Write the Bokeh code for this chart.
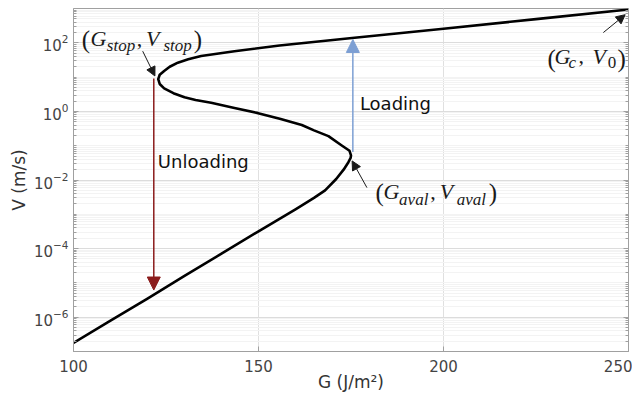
from bokeh.plotting import figure
from bokeh.models import FixedTicker, LogAxis, Arrow, NormalHead, Label, CustomJSTickFormatter
from bokeh.embed import file_html
from bokeh.resources import INLINE

# ---- data ----
G_curve = [100, 110, 120, 130, 140, 150, 160, 165, 168, 171, 173, 174.3, 174.9, 175.0,
           174.6, 172.6, 168.9, 165.0, 161.7, 156.0, 149.9, 143.5, 137.2, 133.0, 130.0, 127.0, 124.5, 123.3, 122.9,
           123.3, 124.5, 126.0, 128.2, 131.0, 134.5, 143.5, 155.7, 175.3, 200.0, 225.0, 250.0]
V_curve = [1.78e-7, 7.9e-7, 3.5e-6, 1.6e-5, 7.1e-5, 3.2e-4, 1.4e-3, 3.0e-3, 5.0e-3, 1.07e-2, 2.0e-2, 3.3e-2, 4.4e-2, 5.2e-2,
           7.1e-2, 0.10, 0.19, 0.28, 0.40, 0.60, 0.89, 1.26, 1.78, 2.14, 2.57, 3.4, 4.7, 6.3, 8.7,
           11.7, 15.1, 20, 26.4, 33, 41, 57, 83, 138, 257, 490, 933]

x_ticks = [100, 150, 200, 250]
y_ticks = [1e-6, 1e-4, 1e-2, 1e0, 1e2]
y_minor = [k * 10.0 ** n for n in range(-7, 3) for k in range(1, 10) if not (k == 1 and n % 2 == 0)]

# arrows: (G_start, V_start, G_end, V_end)
unload_arrow = (121.7, 9.1, 121.7, 6.2e-6)
load_arrow = (175.5, 0.065, 175.5, 125)
stop_pointer = (118.7, 57, 122.0, 10.8)
c_pointer = (243.2, 199, 249.1, 660)
aval_pointer = (179.3, 6.0e-3, 175.3, 0.036)

p = figure(width=632, height=394, x_range=(100, 250), y_range=(1e-7, 1e3),
           y_axis_type="log", output_backend="svg", toolbar_location=None,
           min_border_left=73, min_border_right=4, min_border_top=8, min_border_bottom=40)
p.background_fill_color = "white"
p.border_fill_color = "white"
p.outline_line_color = "#a0a0a0"

p.line(G_curve, V_curve, line_color="black", line_width=2.6, line_join="round")

axis_col = "#a0a0a0"
p.xaxis.ticker = FixedTicker(ticks=x_ticks)
p.yaxis.ticker = FixedTicker(ticks=y_ticks, minor_ticks=y_minor)
for ax in p.axis:
    ax.axis_line_color = axis_col
    ax.major_tick_line_color = axis_col
    ax.minor_tick_line_color = axis_col
    ax.major_tick_in = 5
    ax.major_tick_out = 0
    ax.minor_tick_in = 3
    ax.minor_tick_out = 0
    ax.major_label_text_font = "DejaVu Sans"
    ax.major_label_text_font_size = "15px"
    ax.major_label_text_color = "#444444"
    ax.axis_label_text_font = "DejaVu Sans"
    ax.axis_label_text_font_size = "17px"
    ax.axis_label_text_font_style = "normal"
    ax.axis_label_text_color = "#333333"
p.xaxis.minor_tick_line_color = None
p.xaxis.axis_label = "G (J/m²)"
p.yaxis.axis_label = "V (m/s)"
p.xaxis.major_label_standoff = 8
p.yaxis.major_label_standoff = 5
p.xaxis.axis_label_standoff = -3
p.yaxis.axis_label_standoff = 2

raxis = LogAxis(ticker=FixedTicker(ticks=y_ticks, minor_ticks=y_minor),
                formatter=CustomJSTickFormatter(code="return ' '"),
                major_label_standoff=0, major_label_text_font_size="2px",
                axis_line_color=axis_col,
                major_tick_line_color=axis_col, minor_tick_line_color=axis_col,
                major_tick_in=5, major_tick_out=0, minor_tick_in=3, minor_tick_out=0)
p.add_layout(raxis, "right")

p.xgrid.grid_line_color = "#e0e0e0"
p.ygrid.grid_line_color = "#dcdcdc"
p.ygrid.minor_grid_line_color = "#f3f3f3"

# main arrows
def add_arrow(a, color, width, size):
    p.add_layout(Arrow(x_start=a[0], y_start=a[1], x_end=a[2], y_end=a[3],
                       line_color=color, line_width=width,
                       end=NormalHead(size=size, fill_color=color, line_color=color)))

add_arrow(unload_arrow, "#8b1c1c", 1.5, 13)
add_arrow(load_arrow, "#7d9fd3", 1.5, 13)
add_arrow(stop_pointer, "#1a1a1a", 1.0, 9)
add_arrow(c_pointer, "#1a1a1a", 1.0, 9)
add_arrow(aval_pointer, "#1a1a1a", 1.0, 9)

# text labels
def add_text(x, y, t, size, font="DejaVu Sans", style="normal", color="#111111"):
    p.add_layout(Label(x=x, y=y, text=t, text_font=font, text_font_size=size,
                       text_font_style=style, text_color=color,
                       text_baseline="alphabetic", text_align="left"))

add_text(177.4, 1.65, "Loading", "18px")
add_text(122.8, 0.0347, "Unloading", "18px")

serif = "Liberation Serif"
mcol = "#1a1a1a"
# (G_stop, V_stop)
add_text(102.2, 122, "(", "25px", serif, "normal", mcol)
add_text(104.6, 130.6, "G", "22px", serif, "italic", mcol)
add_text(109.0, 83.5, "stop", "17px", serif, "italic", mcol)
add_text(117.1, 130.6, ",", "22px", serif, "normal", mcol)
add_text(119.6, 130.6, "V", "22px", serif, "italic", mcol)
add_text(124.3, 83.5, "stop", "17px", serif, "italic", mcol)
add_text(132.5, 122, ")", "25px", serif, "normal", mcol)
# (G_c, V_0)
add_text(228.1, 36, "(", "25px", serif, "normal", mcol)
add_text(230.0, 40.2, "G", "22px", serif, "italic", mcol)
add_text(233.8, 27.0, "c", "17px", serif, "italic", mcol)
add_text(236.5, 40.2, ",", "22px", serif, "normal", mcol)
add_text(240.3, 40.2, "V", "22px", serif, "italic", mcol)
add_text(244.4, 27.0, "0", "17px", serif, "normal", mcol)
add_text(247.0, 36, ")", "25px", serif, "normal", mcol)
# (G_aval, V_aval)
add_text(181.6, 4.2e-3, "(", "25px", serif, "normal", mcol)
add_text(183.8, 4.62e-3, "G", "22px", serif, "italic", mcol)
add_text(188.0, 2.64e-3, "aval", "17px", serif, "italic", mcol)
add_text(196.4, 4.62e-3, ",", "22px", serif, "normal", mcol)
add_text(199.0, 4.62e-3, "V", "22px", serif, "italic", mcol)
add_text(203.6, 2.64e-3, "aval", "17px", serif, "italic", mcol)
add_text(212.2, 4.2e-3, ")", "25px", serif, "normal", mcol)

open("out.html", "w").write(file_html(p, INLINE))
